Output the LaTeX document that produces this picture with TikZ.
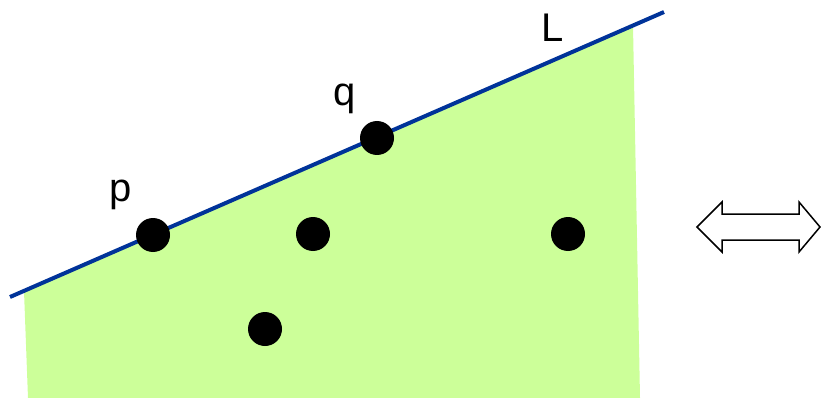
\documentclass[tikz,border=0pt]{standalone}
\usepackage{fontspec}
\setmainfont{Liberation Sans}
\usepackage{xcolor}
\usetikzlibrary{math}
\definecolor{mygreen}{RGB}{204, 255, 153}
\definecolor{myblue}{RGB}{0, 51, 153}

\begin{document}
\begin{tikzpicture}[x=1pt,y=-1pt,
  dot/.style={circle,fill=black,inner sep=0pt,minimum size=34pt},
  lbl/.style={font=\fontsize{40}{48}\selectfont,inner sep=0pt}]
\tikzmath{
\s=-285/654;
\yl=297;
}
\useasboundingbox (0,0) rectangle (821,398);

%%%%%%%%%%  half plane below L
\fill[mygreen] (24,{\yl+\s*14}) -- (633,{\yl+\s*623}) -- (640,398) -- (28,398) -- cycle;

%%%%%%%%%%  line L
\coordinate (l0) at (10,\yl);
\coordinate (l1) at (664,12);
\draw[myblue,line width=4pt] (l0) -- (l1);

%%%%%%%%%%  points
\node[dot] (p) at (153,235) {};
\node[dot] (q) at (377,138) {};
\node[dot] (a) at (313,234) {};
\node[dot] (b) at (568,234) {};
\node[dot] (c) at (265,329) {};

\node[lbl] (plabel) at (121,195) {p};
\node[lbl] (qlabel) at (345,99) {q};
\node[lbl] (llabel) at (553,28) {L};

%%%%%%%%%%  double arrow
\draw[line width=1.5pt,fill=white,line join=miter] (697,227) -- (722,202) -- (722,214) -- (799,214)
  -- (799,202) -- (820,227) -- (799,252) -- (799,240) -- (722,240) -- (722,252) -- cycle;

\end{tikzpicture}
\end{document}
